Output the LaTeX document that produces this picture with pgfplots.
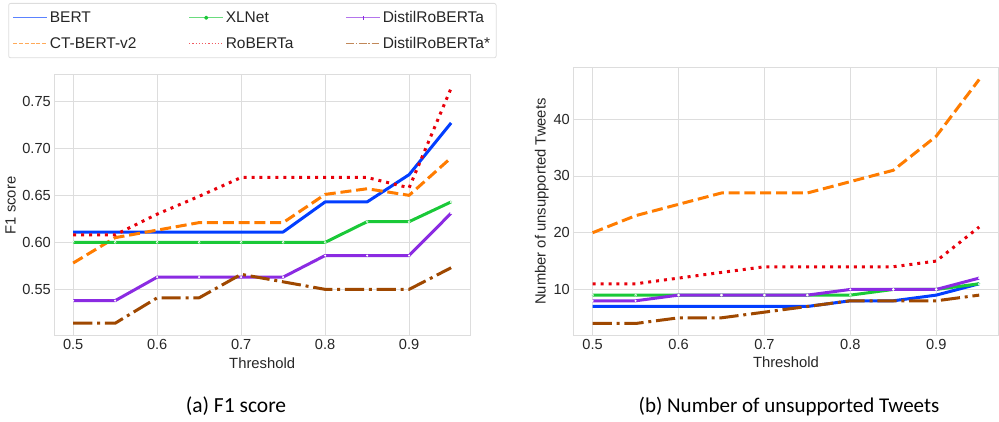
\documentclass[border=0pt]{standalone}
\usepackage{pgfplots}
\pgfplotsset{compat=1.18}
\usetikzlibrary{decorations.markings}
\usepackage{fontspec}
\setmainfont{Liberation Sans}
\newfontfamily\capfont{Carlito}
\definecolor{cblue}{HTML}{023EFF}
\definecolor{corange}{HTML}{FF7C00}
\definecolor{cgreen}{HTML}{1AC938}
\definecolor{cred}{HTML}{E8000B}
\definecolor{cpurple}{HTML}{8B2BE2}
\definecolor{cbrown}{HTML}{9F4800}
\definecolor{gridc}{HTML}{DDDDDD}
\definecolor{tickc}{HTML}{262626}
\tikzset{
  dotmid/.style={postaction={decorate, decoration={markings, mark=at position 0.5 with {\fill[cgreen] (0,0) circle (1.5pt);}}}},
  tickmid/.style={postaction={decorate, decoration={markings, mark=at position 0.5 with {\draw[cpurple, line width=0.8pt, solid] (0,-2pt) -- (0,1.5pt);}}}},
}

\pgfplotstableread{
x     bert  ct    xlnet roberta distil distils
0.50  0.611 0.578 0.600 0.608   0.538  0.514
0.55  0.611 0.605 0.600 0.608   0.538  0.514
0.60  0.611 0.613 0.600 0.630   0.563  0.541
0.65  0.611 0.621 0.600 0.649   0.563  0.541
0.70  0.611 0.621 0.600 0.669   0.563  0.566
0.75  0.611 0.621 0.600 0.669   0.563  0.558
0.80  0.643 0.651 0.600 0.669   0.586  0.550
0.85  0.643 0.657 0.622 0.669   0.586  0.550
0.90  0.672 0.650 0.622 0.658   0.586  0.550
0.95  0.727 0.690 0.643 0.764   0.631  0.573
}\fone

\pgfplotstableread{
x     bert  ct  xlnet roberta distil distils
0.50  7     20  9     11      8      4
0.55  7     23  9     11      8      4
0.60  7     25  9     12      9      5
0.65  7     27  9     13      9      5
0.70  7     27  9     14      9      6
0.75  7     27  9     14      9      7
0.80  8     29  9     14      10     8
0.85  8     31  10    14      10     8
0.90  9     37  10    15      10     8
0.95  11    47  11    21      12     9
}\nunsup

\pgfplotsset{
  mystyle/.style={
    scale only axis, anchor=south west,
    xmin=0.4775, xmax=0.9725,
    axis line style={draw=gridc, line width=1pt},
    grid=major, grid style={draw=gridc, line width=0.9pt},
    tick style={draw=none},
    ticklabel style={font=\fontsize{14.6}{16}\selectfont, text=tickc},
    /pgf/number format/assume math mode=true,
    label style={font=\fontsize{14.8}{16}\selectfont, text=tickc},
    xtick={0.5,0.6,0.7,0.8,0.9},
    xticklabels={0.5,0.6,0.7,0.8,0.9},
    xlabel={Threshold},
    every axis plot/.append style={line width=3pt, line join=round},
  },
  sbert/.style={cblue, solid},
  sct/.style={corange, dash pattern=on 11pt off 4.8pt},
  sxl/.style={cgreen, solid},
  srob/.style={cred, dash pattern=on 3pt off 4.95pt},
  sdis/.style={cpurple, solid},
  sdiss/.style={cbrown, dash pattern=on 19.2pt off 4.8pt on 3pt off 4.8pt},
}

\begin{document}
\begin{tikzpicture}
\path (0pt,0pt) rectangle (999pt,422pt);

% ---- left: F1 score
\begin{axis}[mystyle, at={(54.3pt,86pt)}, width=415.7pt, height=261pt,
  ymin=0.5004, ymax=0.778,
  ytick={0.55,0.60,0.65,0.70,0.75},
  yticklabels={0.55,0.60,0.65,0.70,0.75},
  ylabel={F1 score},
  xlabel style={at={(axis description cs:0.5,0)}, anchor=center, yshift=-27pt},
  ylabel style={at={(axis description cs:-0.1049,0.5)}, anchor=center},
  legend columns=3,
  legend cell align=left,
  legend style={at={(axis description cs:-0.1107,1.2759)}, anchor=north west,
    draw=gridc, rounded corners=2pt, line width=0.8pt,
    font=\fontsize{15.5}{17}\selectfont, text=tickc,
    inner xsep=4pt, inner ysep=6pt, row sep=9pt,
    /tikz/every even column/.append style={column sep=50pt}},
  legend image code/.code={\draw[#1] (0pt,0pt) -- (34pt,0pt);},
]
\addplot[sbert, forget plot] table[x=x,y=bert] {\fone};
\addplot[sct, forget plot] table[x=x,y=ct] {\fone};
\addplot[sxl, forget plot, mark=*, mark size=1.1pt, mark options={solid, fill=cgreen, draw=white, line width=0.5pt}] table[x=x,y=xlnet] {\fone};
\addplot[srob, forget plot] table[x=x,y=roberta] {\fone};
\addplot[sdis, forget plot, mark=*, mark size=0.9pt, mark options={solid, fill=white, draw=white, line width=0.3pt}] table[x=x,y=distil] {\fone};
\addplot[sdiss, forget plot] table[x=x,y=distils] {\fone};

\addlegendimage{draw=cblue!65!white, line width=1.2pt}
\addlegendentry{BERT}
\addlegendimage{draw=cgreen!65!white, line width=1.2pt, dotmid}
\addlegendentry{XLNet}
\addlegendimage{draw=cpurple!65!white, line width=1.2pt, tickmid}
\addlegendentry{DistilRoBERTa}
\addlegendimage{draw=corange!65!white, line width=1.2pt, dash pattern=on 4pt off 1.8pt}
\addlegendentry{CT-BERT-v2}
\addlegendimage{draw=cred!65!white, line width=1.2pt, dash pattern=on 1.2pt off 2pt}
\addlegendentry{RoBERTa}
\addlegendimage{draw=cbrown!65!white, line width=1.2pt, dash pattern=on 7.7pt off 1.9pt on 1.2pt off 1.9pt}
\addlegendentry{DistilRoBERTa*}
\end{axis}

% ---- right: number of unsupported tweets
\begin{axis}[mystyle, at={(573.3pt,86.3pt)}, width=425.2pt, height=268.4pt,
  ymin=1.85, ymax=49.15,
  ytick={10,20,30,40},
  yticklabels={10,20,30,40},
  ylabel={Number of unsupported Tweets},
  xlabel style={at={(axis description cs:0.5,0)}, anchor=center, yshift=-27pt},
  ylabel style={at={(axis description cs:-0.0742,0.5)}, anchor=center},
]
\addplot[sbert] table[x=x,y=bert] {\nunsup};
\addplot[sct] table[x=x,y=ct] {\nunsup};
\addplot[sxl, mark=*, mark size=1.1pt, mark options={solid, fill=cgreen, draw=white, line width=0.5pt}] table[x=x,y=xlnet] {\nunsup};
\addplot[srob] table[x=x,y=roberta] {\nunsup};
\addplot[sdis, mark=*, mark size=0.9pt, mark options={solid, fill=white, draw=white, line width=0.3pt}] table[x=x,y=distil] {\nunsup};
\addplot[sdiss] table[x=x,y=distils] {\nunsup};
\end{axis}

\node[font=\capfont\fontsize{21.5}{23}\selectfont, text=black] at (236pt,15.5pt) {(a) F1 score};
\node[font=\capfont\fontsize{21}{23}\selectfont, text=black] at (789pt,15.5pt) {(b) Number of unsupported Tweets};
\end{tikzpicture}
\end{document}
